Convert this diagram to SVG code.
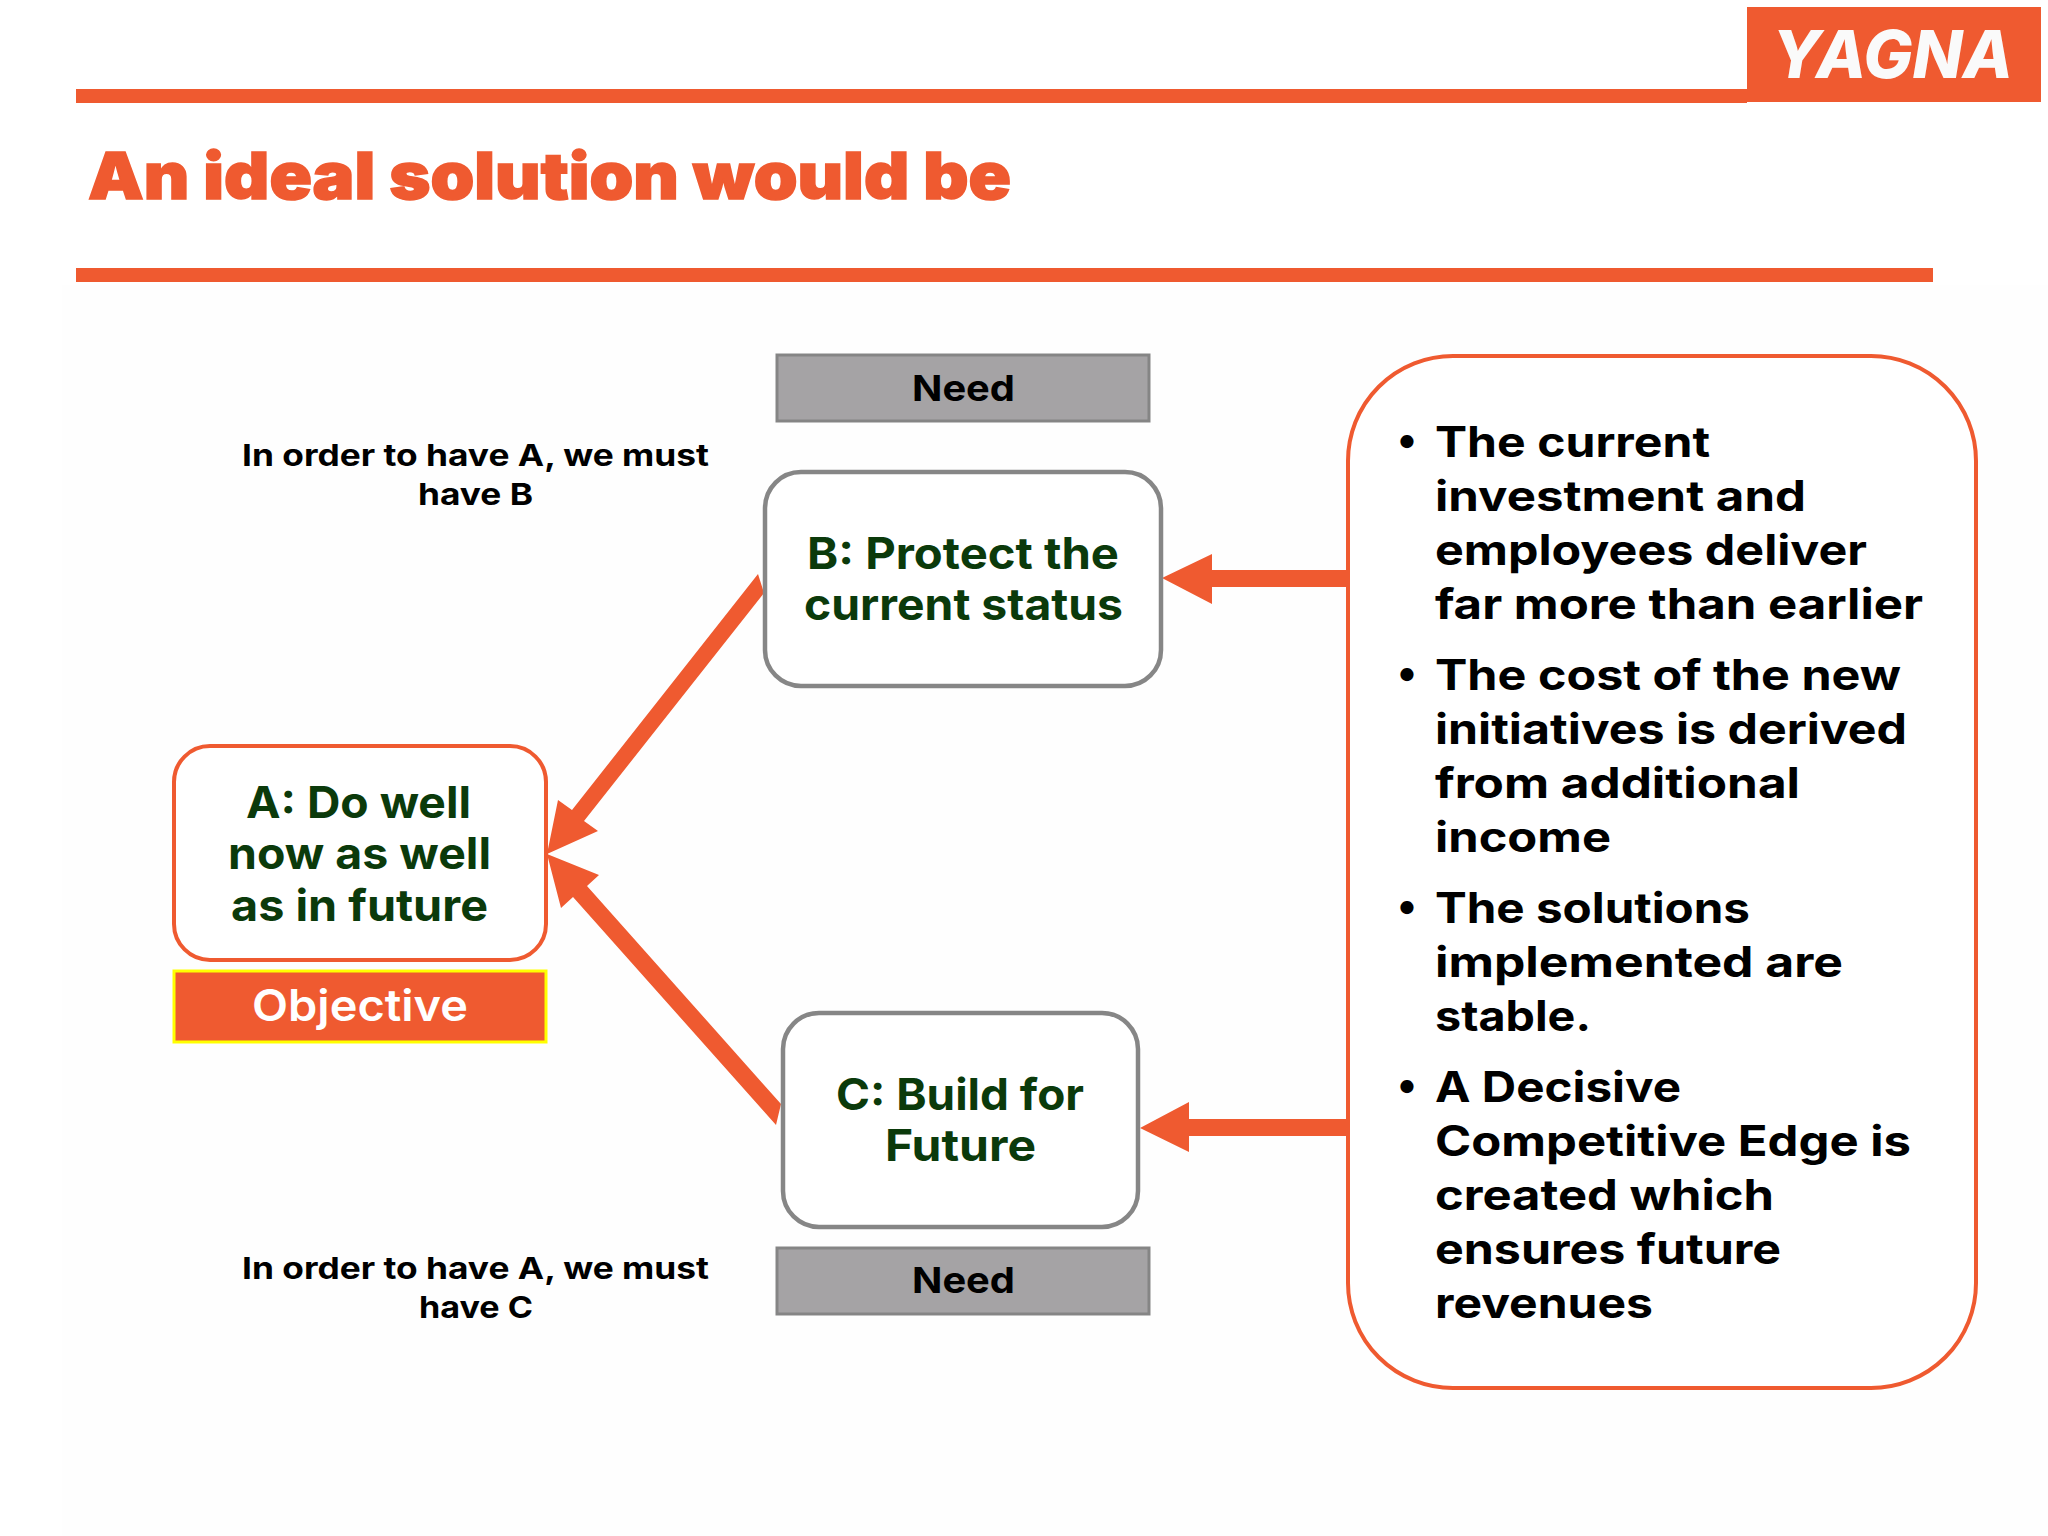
<svg xmlns="http://www.w3.org/2000/svg" width="2048" height="1536" viewBox="0 0 2048 1536">
<style>
text{font-family:Inter,"Liberation Sans",sans-serif;font-weight:700;}
.bar{fill:#ef5a30;}
.node{font-size:44px;fill:#0b3a0b;}
.list{font-size:42px;fill:#000;}
.note{font-size:30px;fill:#000;}
.need{font-size:36px;fill:#000;}
.needbox{fill:#a5a3a5;stroke:#858585;stroke-width:3;}
.grey{fill:#fff;stroke:#868686;stroke-width:4.5;}
.conn{fill:#ef5a30;}
</style>
<rect width="2048" height="1536" fill="#fff"/>
<rect x="62" y="285" width="1986" height="1251" fill="#fefefe"/>
<g id="header">
<rect class="bar" x="76" y="89" width="1671" height="14"/>
<rect class="bar" x="76" y="268" width="1857" height="14"/>
<text x="88" y="199" font-size="65" style="font-weight:900" fill="#ef5a30" stroke="#ef5a30" stroke-width="1.5" textLength="923" lengthAdjust="spacingAndGlyphs">An ideal solution would be</text>
</g>
<g id="logo">
<rect class="bar" x="1747" y="7" width="294" height="95"/>
<text x="1772" y="78" font-size="66" font-style="italic" style="font-weight:800" fill="#fafafa" textLength="241" lengthAdjust="spacingAndGlyphs">YAGNA</text>
</g>
<g id="connectors">
<path class="conn" d="M1347 570H1212V554L1162 578L1212 604V587H1347Z"/>
<path class="conn" d="M1347 1119H1189V1102L1140 1128L1189 1152V1136H1347Z"/>
<path class="conn" d="M758 574L764 593L584 821L598 831L547 854L558 800L572 810Z"/>
<path class="conn" d="M781 1104L776 1125L573 897L561 908L547 854L599 875L587 886Z"/>
</g>
<g id="node-a">
<rect x="174" y="746" width="372" height="214" rx="36" fill="#fff" stroke="#ef5a30" stroke-width="4"/>
<text class="node" x="246" y="818" textLength="225" lengthAdjust="spacingAndGlyphs">A: Do well</text>
<text class="node" x="228" y="869" textLength="263" lengthAdjust="spacingAndGlyphs">now as well</text>
<text class="node" x="231" y="921" textLength="257" lengthAdjust="spacingAndGlyphs">as in future</text>
</g>
<g id="objective">
<rect x="174" y="971" width="372" height="71" fill="#ef5a30" stroke="#ffff00" stroke-width="3"/>
<text x="252" y="1021" font-size="44" fill="#fff" style="font-weight:600" textLength="216" lengthAdjust="spacingAndGlyphs">Objective</text>
</g>
<g id="need-b">
<rect class="needbox" x="777" y="355" width="372" height="66"/>
<text class="need" x="912" y="401" textLength="103" lengthAdjust="spacingAndGlyphs">Need</text>
</g>
<g id="node-b">
<rect class="grey" x="765" y="472" width="396" height="214" rx="36"/>
<text class="node" x="807" y="569" textLength="312" lengthAdjust="spacingAndGlyphs">B: Protect the</text>
<text class="node" x="804" y="620" textLength="319" lengthAdjust="spacingAndGlyphs">current status</text>
</g>
<g id="node-c">
<rect class="grey" x="783" y="1013" width="355" height="214" rx="36"/>
<text class="node" x="836" y="1110" textLength="248" lengthAdjust="spacingAndGlyphs">C: Build for</text>
<text class="node" x="885" y="1161" textLength="151" lengthAdjust="spacingAndGlyphs">Future</text>
</g>
<g id="need-c">
<rect class="needbox" x="777" y="1248" width="372" height="66"/>
<text class="need" x="912" y="1293" textLength="103" lengthAdjust="spacingAndGlyphs">Need</text>
</g>
<g id="note-b">
<text class="note" x="242" y="466" textLength="467" lengthAdjust="spacingAndGlyphs">In order to have A, we must</text>
<text class="note" x="418" y="505" textLength="115" lengthAdjust="spacingAndGlyphs">have B</text>
</g>
<g id="note-c">
<text class="note" x="242" y="1279" textLength="467" lengthAdjust="spacingAndGlyphs">In order to have A, we must</text>
<text class="note" x="419" y="1318" textLength="114" lengthAdjust="spacingAndGlyphs">have C</text>
</g>
<g id="details">
<rect x="1348" y="356" width="628" height="1032" rx="105" fill="#fff" stroke="#ef5a30" stroke-width="4"/>
<text class="list" x="1397" y="454">•</text>
<text class="list" x="1435" y="457" textLength="275" lengthAdjust="spacingAndGlyphs">The current</text>
<text class="list" x="1435" y="511" textLength="371" lengthAdjust="spacingAndGlyphs">investment and</text>
<text class="list" x="1435" y="565" textLength="432" lengthAdjust="spacingAndGlyphs">employees deliver</text>
<text class="list" x="1435" y="619" textLength="488" lengthAdjust="spacingAndGlyphs">far more than earlier</text>
<text class="list" x="1397" y="687">•</text>
<text class="list" x="1435" y="690" textLength="466" lengthAdjust="spacingAndGlyphs">The cost of the new</text>
<text class="list" x="1435" y="744" textLength="472" lengthAdjust="spacingAndGlyphs">initiatives is derived</text>
<text class="list" x="1435" y="798" textLength="365" lengthAdjust="spacingAndGlyphs">from additional</text>
<text class="list" x="1435" y="852" textLength="176" lengthAdjust="spacingAndGlyphs">income</text>
<text class="list" x="1397" y="920">•</text>
<text class="list" x="1435" y="923" textLength="315" lengthAdjust="spacingAndGlyphs">The solutions</text>
<text class="list" x="1435" y="977" textLength="408" lengthAdjust="spacingAndGlyphs">implemented are</text>
<text class="list" x="1435" y="1031" textLength="156" lengthAdjust="spacingAndGlyphs">stable.</text>
<text class="list" x="1397" y="1099">•</text>
<text class="list" x="1435" y="1102" textLength="246" lengthAdjust="spacingAndGlyphs">A Decisive</text>
<text class="list" x="1435" y="1156" textLength="476" lengthAdjust="spacingAndGlyphs">Competitive Edge is</text>
<text class="list" x="1435" y="1210" textLength="339" lengthAdjust="spacingAndGlyphs">created which</text>
<text class="list" x="1435" y="1264" textLength="346" lengthAdjust="spacingAndGlyphs">ensures future</text>
<text class="list" x="1435" y="1318" textLength="218" lengthAdjust="spacingAndGlyphs">revenues</text>
</g>
</svg>
